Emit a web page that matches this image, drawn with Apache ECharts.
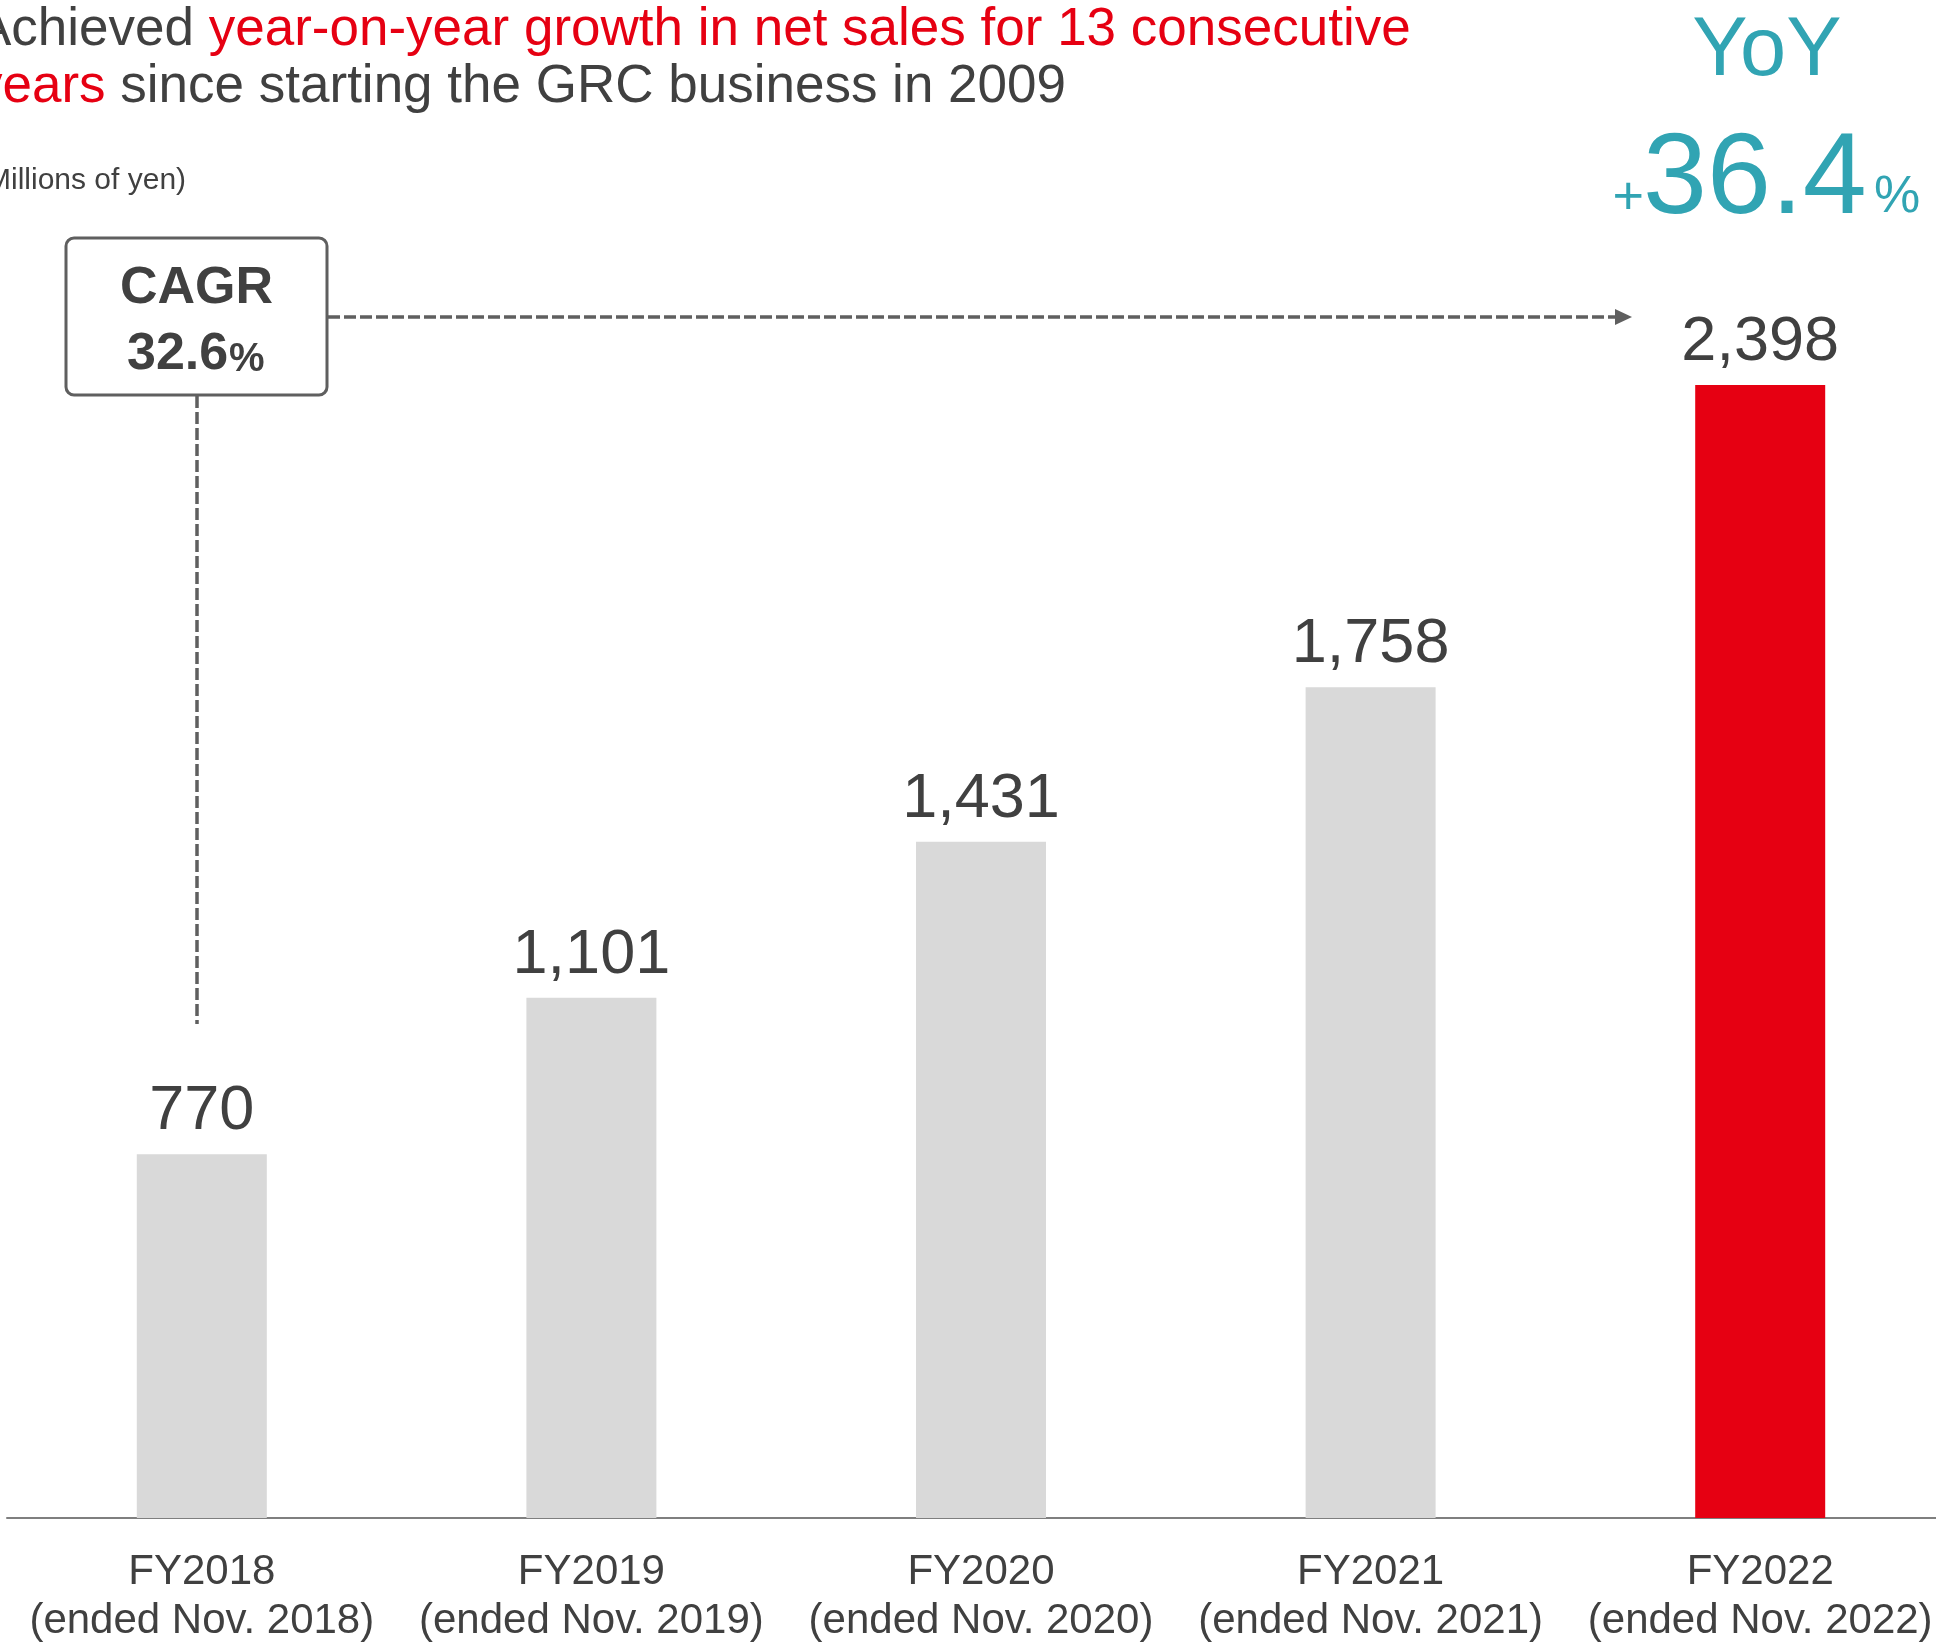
<!DOCTYPE html>
<html>
<head>
<meta charset="utf-8">
<style>
  html, body { margin: 0; padding: 0; background: #ffffff; }
  #chart { width: 1936px; height: 1643px; }
</style>
<script src="https://cdn.jsdelivr.net/npm/echarts@6/dist/echarts.min.js"></script>
</head>
<body>
<div id="chart"></div>
<script>
// ---- data ----
const fiscalYears = ['FY2018', 'FY2019', 'FY2020', 'FY2021', 'FY2022'];
const periodLabels = ['(ended Nov. 2018)', '(ended Nov. 2019)', '(ended Nov. 2020)', '(ended Nov. 2021)', '(ended Nov. 2022)'];
const netSales = [770, 1101, 1431, 1758, 2398];
const titleGray1 = 'Achieved ';
const titleRed1 = 'year-on-year growth in net sales for 13 consecutive';
const titleRed2 = 'years';
const titleGray2 = ' since starting the GRC business in 2009';
const unitLabel = '(Millions of yen)';
const cagrTitle = 'CAGR';
const cagrValue = '32.6';
const yoyTitle = 'YoY';
const yoyValue = '36.4';

// ---- styles ----
const FONT = '"Liberation Sans", Arial, Helvetica, sans-serif';
const GRAY_TEXT = '#404040';
const RED = '#e60012';
const BAR_GRAY = '#d9d9d9';
const TEAL = '#31a4b3';
const LINE_GRAY = '#5f5f5f';

const categories = fiscalYears.map((fy, i) => fy + '\n' + periodLabels[i]);

const chart = echarts.init(document.getElementById('chart'), null, { renderer: 'canvas' });

const option = {
  backgroundColor: '#ffffff',
  animation: false,
  grid: { left: 7, right: -19, top: 384, bottom: 125, containLabel: false, outerBoundsMode: 'none' },
  xAxis: {
    type: 'category',
    data: categories,
    axisTick: { show: false },
    axisLine: { show: true, lineStyle: { color: '#7f7f7f', width: 2 } },
    axisLabel: {
      margin: 30,
      color: GRAY_TEXT,
      fontFamily: FONT,
      fontSize: 42,
      lineHeight: 49,
      interval: 0
    }
  },
  yAxis: {
    type: 'value',
    min: 0,
    max: 2400,
    show: false,
    splitLine: { show: false }
  },
  series: [{
    type: 'bar',
    data: netSales,
    barWidth: 130,
    itemStyle: {
      color: (p) => (p.dataIndex === netSales.length - 1 ? RED : BAR_GRAY)
    },
    label: {
      show: true,
      position: 'top',
      distance: 11,
      color: GRAY_TEXT,
      fontFamily: FONT,
      fontSize: 63,
      lineHeight: 63,
      formatter: (p) => p.value.toLocaleString('en-US')
    }
  }],
  graphic: [
    // title
    {
      type: 'text', x: -24, y: 2,
      style: {
        text: '{g|' + titleGray1 + '}{r|' + titleRed1 + '}\n{r|' + titleRed2 + '}{g|' + titleGray2 + '}',
        align: 'left', verticalAlign: 'top',
        fontFamily: FONT, fontSize: 53, lineHeight: 57,
        rich: {
          g: { fill: GRAY_TEXT, color: GRAY_TEXT, fontFamily: FONT, fontSize: 53, lineHeight: 57 },
          r: { fill: RED, color: RED, fontFamily: FONT, fontSize: 53, lineHeight: 57 }
        }
      }
    },
    // unit label
    {
      type: 'text', x: -24, y: 181,
      style: { text: unitLabel, fill: GRAY_TEXT, fontFamily: FONT, fontSize: 30, align: 'left', verticalAlign: 'middle' }
    },
    // CAGR box
    {
      type: 'rect',
      shape: { x: 66, y: 238, width: 261, height: 157, r: 8 },
      style: { fill: '#ffffff', stroke: LINE_GRAY, lineWidth: 3 }
    },
    {
      type: 'text', x: 196.5, y: 289,
      style: { text: cagrTitle, fill: GRAY_TEXT, fontFamily: FONT, fontWeight: 'bold', fontSize: 52, align: 'center', verticalAlign: 'middle' }
    },
    {
      type: 'text', x: 127, y: 355,
      style: { text: cagrValue, fill: GRAY_TEXT, fontFamily: FONT, fontWeight: 'bold', fontSize: 52, align: 'left', verticalAlign: 'middle' }
    },
    {
      type: 'text', x: 229, y: 360,
      style: { text: '%', fill: GRAY_TEXT, fontFamily: FONT, fontWeight: 'bold', fontSize: 40, align: 'left', verticalAlign: 'middle' }
    },
    // dashed connectors
    {
      type: 'line',
      shape: { x1: 328, y1: 317, x2: 1615, y2: 317 },
      style: { stroke: LINE_GRAY, lineWidth: 3.5, lineDash: [12, 4] }
    },
    {
      type: 'polygon',
      shape: { points: [[1615, 309], [1632, 317], [1615, 325]] },
      style: { fill: LINE_GRAY }
    },
    {
      type: 'line',
      shape: { x1: 197, y1: 396, x2: 197, y2: 1024 },
      style: { stroke: LINE_GRAY, lineWidth: 3.5, lineDash: [12, 4] }
    },
    // YoY
    {
      type: 'text', x: 1767, y: 52,
      style: { text: yoyTitle, fill: TEAL, fontFamily: FONT, fontSize: 83, align: 'center', verticalAlign: 'middle' }
    },
    {
      type: 'text', x: 1644, y: 199,
      style: { text: '+', fill: TEAL, fontFamily: FONT, fontSize: 54, align: 'right', verticalAlign: 'middle' }
    },
    {
      type: 'text', x: 1643, y: 181,
      style: { text: yoyValue, fill: TEAL, fontFamily: FONT, fontSize: 115, align: 'left', verticalAlign: 'middle' }
    },
    {
      type: 'text', x: 1874, y: 198,
      style: { text: '%', fill: TEAL, fontFamily: FONT, fontSize: 52, align: 'left', verticalAlign: 'middle' }
    }
  ]
};

chart.setOption(option);
</script>
</body>
</html>
